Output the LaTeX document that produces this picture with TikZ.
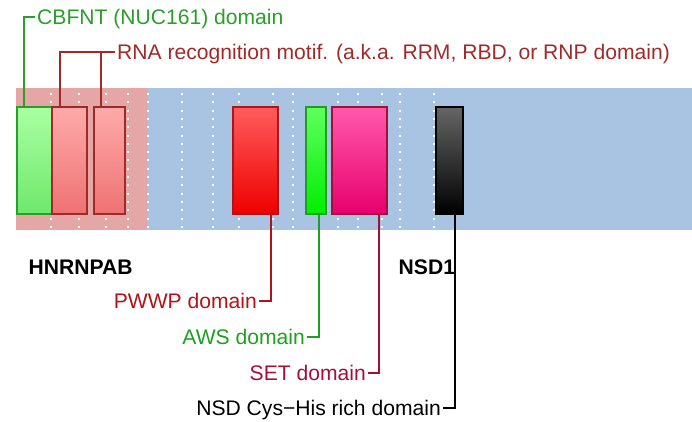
\documentclass[tikz,border=0pt]{standalone}
\usepackage{fontspec}
\setmainfont{Liberation Sans}
\usetikzlibrary{positioning}

\definecolor{pinkbg}{HTML}{E5A6A6}
\definecolor{bluebg}{HTML}{A8C4E2}
\definecolor{cbfntdark}{HTML}{2A9E2A}
\definecolor{rrmdark}{HTML}{A02A2A}
\definecolor{pwwpdark}{HTML}{AE1418}
\definecolor{awsdark}{HTML}{1EA01E}
\definecolor{setdark}{HTML}{A2103A}
\definecolor{cbfnttop}{HTML}{AAFFA2}
\definecolor{cbfntbot}{HTML}{6EE86C}
\definecolor{rrmtop}{HTML}{FFAAAA}
\definecolor{rrmbot}{HTML}{EE7272}
\definecolor{pwwptop}{HTML}{FF5C5C}
\definecolor{pwwpbot}{HTML}{EE0000}
\definecolor{awstop}{HTML}{60FF60}
\definecolor{awsbot}{HTML}{00EE00}
\definecolor{settop}{HTML}{FF5AAA}
\definecolor{setbot}{HTML}{E8006E}

\tikzset{
  domainbox/.style={draw, line width=1.5pt, anchor=north west, inner sep=0pt,
    minimum height=107pt},
  lbl/.style={font=\fontsize{21.1}{25}\selectfont, text height=15.1pt, text depth=0pt,
    inner xsep=2pt, inner ysep=0pt},
  genelbl/.style={lbl, font=\fontsize{21.1}{25}\selectfont\bfseries, inner xsep=0pt},
  link/.style={line width=2pt},
  gridline/.style={white, line width=2pt, dash pattern=on 2pt off 6.3pt}
}

\begin{document}
\begin{tikzpicture}[x=1pt,y=-1pt]
  \useasboundingbox (0,0) rectangle (692,421);
  \fill[pinkbg] (16,88) rectangle (148,230);
  \fill[bluebg] (148,88) rectangle (692,230);
  \foreach \x in {51,79,106,128,148,182,213,239,273,293,338,358,382,400,434}{
      \draw[gridline] (\x,93) -- (\x,229);
    }

  \node[domainbox, draw=cbfntdark, top color=cbfnttop, bottom color=cbfntbot,
    minimum width=35pt] (cbfnt) at (16,106) {};
  \node[domainbox, draw=rrmdark, top color=rrmtop, bottom color=rrmbot,
    minimum width=35pt] (rrma) at (51,106) {};
  \node[domainbox, draw=rrmdark, top color=rrmtop, bottom color=rrmbot,
    minimum width=31pt] (rrmb) at (93,106) {};
  \node[domainbox, draw=pwwpdark, top color=pwwptop, bottom color=pwwpbot,
    minimum width=45pt] (pwwp) at (232,106) {};
  \node[domainbox, draw=awsdark, top color=awstop, bottom color=awsbot,
    minimum width=20pt] (aws) at (305,106) {};
  \node[domainbox, draw=setdark, top color=settop, bottom color=setbot,
    minimum width=55pt] (setdom) at (331,106) {};
  \node[domainbox, draw=black, top color=black!60, bottom color=black,
    minimum width=27pt] (nsd) at (435,106) {};

  \node[genelbl, anchor=west] (hnrnpab) at (28.5,266.5) {HNRNPAB};
  \node[genelbl, anchor=west] (nsdone) at (398.5,266.5) {NSD1};

  \node[lbl, anchor=west, text=cbfntdark] (cbfntlbl) at (35,17) {CBFNT (NUC161) domain};
  \node[lbl, anchor=west, text=rrmdark] (rrmlbl) at (115,52.3) {RNA recognition motif. (a.k.a. RRM, RBD, or RNP domain)};
  \node[lbl, anchor=east, text=pwwpdark] (pwwplbl) at (259,300.7) {PWWP domain};
  \node[lbl, anchor=east, text=awsdark] (awslbl) at (307,336.7) {AWS domain};
  \node[lbl, anchor=east, text=setdark] (setlbl) at (368,372.7) {SET domain};
  \node[lbl, anchor=east, text=black] (nsdlbl) at (443,408) {NSD Cys−His rich domain};

  \draw[link, cbfntdark] ([xshift=-10.5pt]cbfnt.north) |- (cbfntlbl.west);
  \draw[link, rrmdark] ([xshift=-9.5pt]rrma.north) |- (rrmlbl.west);
  \draw[link, rrmdark] ([xshift=-7.8pt]rrmb.north) |- (rrmlbl.west);
  \draw[link, pwwpdark] ([xshift=15.5pt]pwwp.south) |- (pwwplbl.east);
  \draw[link, awsdark] ([xshift=3pt]aws.south) |- (awslbl.east);
  \draw[link, setdark] ([xshift=19.7pt]setdom.south) |- (setlbl.east);
  \draw[link, black] ([xshift=5.5pt]nsd.south) |- (nsdlbl.east);
\end{tikzpicture}
\end{document}
